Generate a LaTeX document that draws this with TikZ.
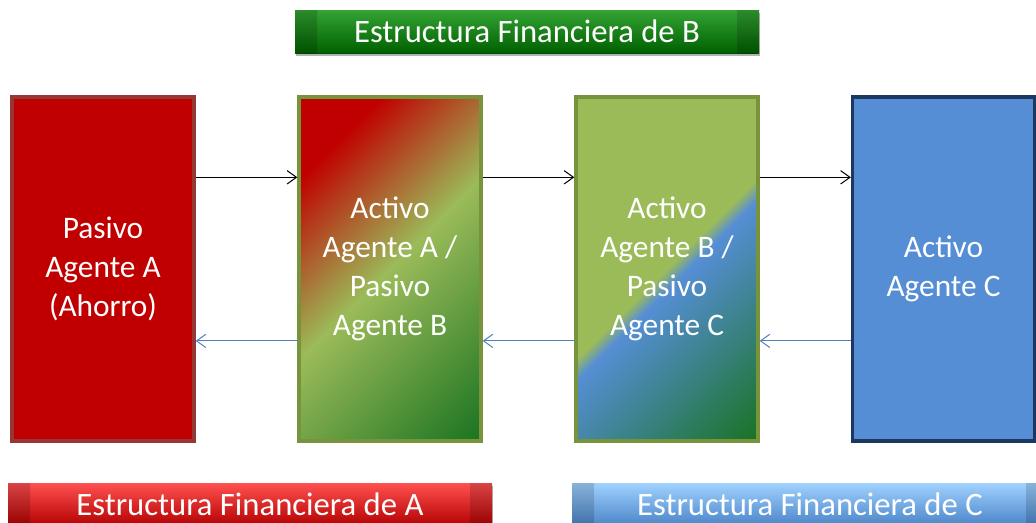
\documentclass[tikz,border=0pt]{standalone}
\usepackage{fontspec}
\setmainfont{Carlito}
\usetikzlibrary{arrows.meta,calc,shadows}

\definecolor{rojoA}{RGB}{192,0,0}
\definecolor{bordeA}{RGB}{149,55,53}
\definecolor{verdeclaro}{RGB}{155,187,89}
\definecolor{bordeV}{RGB}{119,147,60}
\definecolor{verdeosc}{RGB}{24,114,32}
\definecolor{azulC}{RGB}{85,142,213}
\definecolor{bordeC}{RGB}{28,56,96}
\definecolor{flechaAz}{RGB}{79,129,189}

\pgfdeclarehorizontalshading{degradeB}{100bp}{color(0bp)=(rojoA); color(33bp)=(rojoA); color(50bp)=(verdeclaro); color(75bp)=(verdeosc); color(100bp)=(verdeosc)}
\pgfdeclarehorizontalshading{degradeBC}{100bp}{color(0bp)=(verdeclaro); color(50bp)=(verdeclaro); color(52bp)=(azulC); color(75bp)=(verdeosc); color(100bp)=(verdeosc)}

\tikzset{every picture/.style={line width=0.75pt}}

\begin{document}
\begin{tikzpicture}[x=0.75pt,y=0.75pt,yscale=-1,
	agente/.style={draw, line width=2.5pt, minimum width=136.5pt, minimum height=258pt, inner sep=0pt, text=white, align=center, font=\fontsize{23.5}{29.25}\selectfont},
	banda/.style={minimum height=32.25pt, inner sep=0pt, text=white, font=\fontsize{24.5}{28}\selectfont, bisel},
	bisel/.style={path picture={
		\coordinate (nw) at (path picture bounding box.north west);
		\coordinate (ne) at (path picture bounding box.north east);
		\coordinate (sw) at (path picture bounding box.south west);
		\coordinate (se) at (path picture bounding box.south east);
		\fill[white,opacity=.25] (nw) -- (ne) -- ($(ne)+(-22,4)$) -- ($(nw)+(22,4)$) -- cycle;
		\fill[black,opacity=.2] (sw) -- (se) -- ($(se)+(-22,-5)$) -- ($(sw)+(22,-5)$) -- cycle;
		\fill[black,opacity=.15] (nw) -- ($(nw)+(22,4)$) -- ($(sw)+(22,-5)$) -- (sw) -- cycle;
		\fill[black,opacity=.15] (ne) -- ($(ne)+(-22,4)$) -- ($(se)+(-22,-5)$) -- (se) -- cycle;
	}},
	sombra/.style={drop shadow={shadow xshift=1pt, shadow yshift=-2.5pt, opacity=.3, fill=black}},
	ida/.style={-{Straight Barb[length=7pt,width=10pt]}, black},
	vuelta/.style={ida, flechaAz}]
	\useasboundingbox (0,0) rectangle (1036,522);

	% banda superior
	\node[banda, sombra, top color=green!55!black!80!white, middle color={rgb,255:red,12;green,124;blue,12}, bottom color={rgb,255:red,0;green,96;blue,0}, minimum width=348pt] (estB) at (527,31.5) {Estructura Financiera de B};

	% agentes
	\node[agente, fill=rojoA, draw=bordeA] (A) at (103,269) {Pasivo\\Agente A\\(Ahorro)};
	\node[agente, draw=bordeV, path picture={\shade[shading=degradeB, shading angle=-45] ($(path picture bounding box.center)+(-189,-189)$) rectangle ++(378,378);}] (B) at (390,269) {Activo\\Agente A /\\Pasivo\\Agente B};
	\node[agente, draw=bordeV, path picture={\shade[shading=degradeBC, shading angle=-45] ($(path picture bounding box.center)+(-189,-189)$) rectangle ++(378,378);}] (BC) at (667,269) {Activo\\Agente B /\\Pasivo\\Agente C};
	\node[agente, fill=azulC, draw=bordeC] (C) at (943.5,269) {Activo\\Agente C};

	% flechas
	\draw[ida] ($(A.north east)!.236!(A.south east)$) -- ($(B.north west)!.236!(B.south west)$);
	\draw[ida] ($(B.north east)!.236!(B.south east)$) -- ($(BC.north west)!.236!(BC.south west)$);
	\draw[ida] ($(BC.north east)!.236!(BC.south east)$) -- ($(C.north west)!.236!(C.south west)$);
	\draw[vuelta] ($(B.north west)!.707!(B.south west)$) -- ($(A.north east)!.707!(A.south east)$);
	\draw[vuelta] ($(BC.north west)!.707!(BC.south west)$) -- ($(B.north east)!.707!(B.south east)$);
	\draw[vuelta] ($(C.north west)!.707!(C.south west)$) -- ($(BC.north east)!.707!(BC.south east)$);

	% bandas inferiores
	\node[banda, sombra, top color={rgb,255:red,255;green,80;blue,80}, middle color={rgb,255:red,210;green,0;blue,0}, bottom color={rgb,255:red,180;green,0;blue,0}, minimum width=363pt] (estA) at (250,504.5) {Estructura Financiera de A};
	\node[banda, sombra, top color={rgb,255:red,160;green,210;blue,255}, middle color={rgb,255:red,92;green,152;blue,224}, bottom color={rgb,255:red,74;green,132;blue,200}, minimum width=357pt] (estC) at (810,504.5) {Estructura Financiera de C};
\end{tikzpicture}
\end{document}
